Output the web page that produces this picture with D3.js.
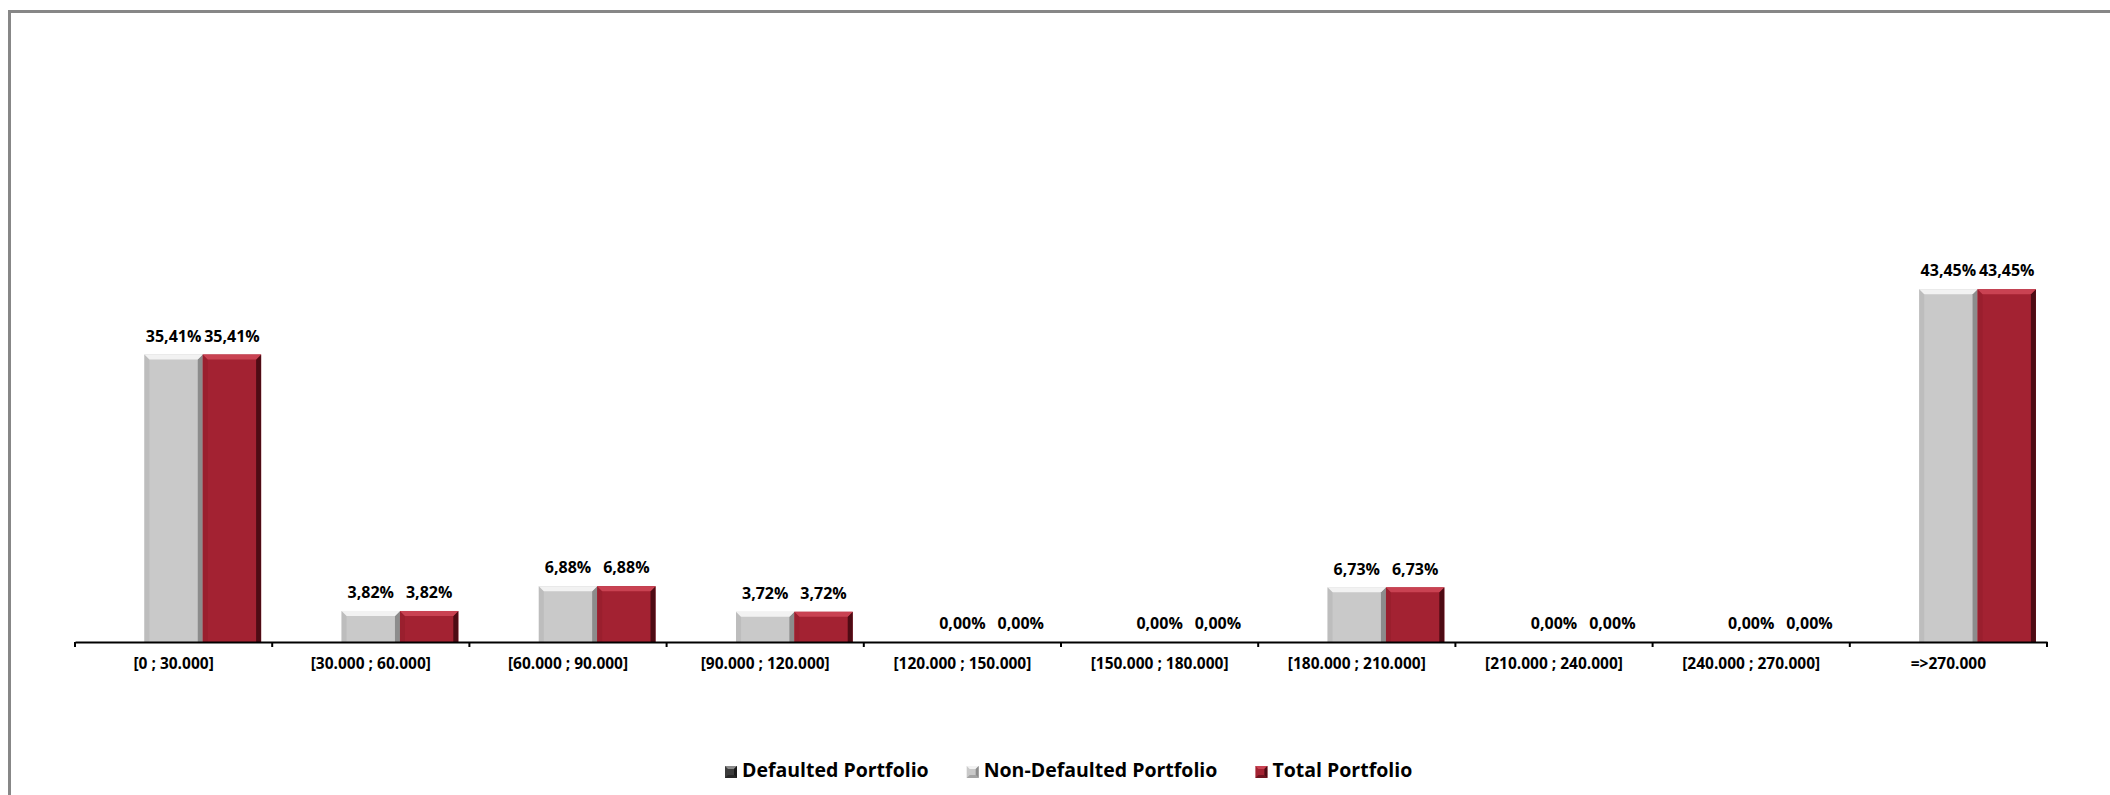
<!DOCTYPE html>
<html>
<head>
<meta charset="utf-8">
<script src="https://cdn.jsdelivr.net/npm/d3@7/dist/d3.min.js"></script>
<style>
  html, body { margin: 0; padding: 0; background: #fff; }
  svg { display: block; }
</style>
</head>
<body>
<svg id="chart" width="2110" height="795"></svg>
<script>
const categories = ["[0 ; 30.000]", "[30.000 ; 60.000]", "[60.000 ; 90.000]", "[90.000 ; 120.000]",
  "[120.000 ; 150.000]", "[150.000 ; 180.000]", "[180.000 ; 210.000]", "[210.000 ; 240.000]",
  "[240.000 ; 270.000]", "=>270.000"];
const seriesNames = ["Defaulted Portfolio", "Non-Defaulted Portfolio", "Total Portfolio"];
const defaulted = [0, 0, 0, 0, 0, 0, 0, 0, 0, 0];
const nonDefaulted = [35.41, 3.82, 6.88, 3.72, 0.00, 0.00, 6.73, 0.00, 0.00, 43.45];
const total = [35.41, 3.82, 6.88, 3.72, 0.00, 0.00, 6.73, 0.00, 0.00, 43.45];
const showLabels = [false, true, true];

const seriesValues = [defaulted, nonDefaulted, total];
const palette = [
  { main: "#3c3c3c", light: "#555555", top: "#8a8a8a", dark: "#1a1a1a" },
  { main: "#c9c9c9", light: "#bdbdbd", top: "#f2f2f2", dark: "#8c8c8c" },
  { main: "#a32232", light: "#9a1f2e", top: "#c94252", dark: "#4e0b14" }
];

const svg = d3.select("#chart");
const FONT = "'Open Sans', Lato, sans-serif";

// outer frame (extends beyond right / bottom edge)
svg.append("rect")
  .attr("x", 9.5).attr("y", 11.5)
  .attr("width", 2200).attr("height", 900)
  .attr("fill", "none").attr("stroke", "#878787").attr("stroke-width", 3);

const x0 = d3.scaleBand().domain(categories).range([75, 2047]).paddingInner(0).paddingOuter(0);
const x1 = d3.scaleBand().domain(seriesNames).range([0, x0.bandwidth()]).paddingInner(0).paddingOuter(0.19);
const y = d3.scaleLinear().domain([0, 50]).range([642, 236]);

const fmt = v => d3.format(".2f")(v).replace(".", ",") + "%";

const data = [];
categories.forEach((c, i) => {
  seriesNames.forEach((s, j) => {
    data.push({ cat: c, series: s, si: j, value: seriesValues[j][i] });
  });
});

const bars = svg.append("g");
const bev = 5;
data.filter(d => d.value > 0).forEach(d => {
  const bx = x0(d.cat) + x1(d.series);
  const bw = x1.bandwidth();
  const by = y(d.value);
  const bh = y(0) - by;
  const col = palette[d.si];
  const g = bars.append("g");
  g.append("rect").attr("x", bx).attr("y", by).attr("width", bw).attr("height", bh).attr("fill", col.main);
  const b = Math.min(bev, bh / 2);
  g.append("polygon").attr("points", [[bx, by], [bx + b, by + b], [bx + b, by + bh], [bx, by + bh]].join(" "))
    .attr("fill", col.light);
  g.append("polygon").attr("points", [[bx + bw, by], [bx + bw - b, by + b], [bx + bw - b, by + bh], [bx + bw, by + bh]].join(" "))
    .attr("fill", col.dark);
  g.append("polygon").attr("points", [[bx, by], [bx + bw, by], [bx + bw - b, by + b], [bx + b, by + b]].join(" "))
    .attr("fill", col.top);
});

// value labels
svg.append("g").selectAll("text")
  .data(data.filter(d => showLabels[d.si]))
  .join("text")
  .attr("x", d => x0(d.cat) + x1(d.series) + x1.bandwidth() / 2)
  .attr("y", d => y(d.value) - 17)
  .attr("text-anchor", "middle")
  .attr("dominant-baseline", "middle")
  .attr("font-family", FONT)
  .attr("font-weight", "bold")
  .attr("font-size", 16)
  .attr("fill", "#000")
  .text(d => fmt(d.value));

// x axis
const axis = svg.append("g").attr("transform", `translate(0,${y(0)})`)
  .call(d3.axisBottom(x0).tickSize(0).tickSizeOuter(0).tickPadding(16));
axis.select(".domain").attr("stroke", "#000").attr("stroke-width", 2);
axis.selectAll(".tick text")
  .attr("font-family", FONT).attr("font-weight", "bold").attr("font-size", 15.5).attr("fill", "#000");

const boundaries = categories.map(c => x0(c)).concat([x0.range()[1]]);
axis.selectAll("line.bound").data(boundaries).join("line")
  .attr("class", "bound")
  .attr("x1", d => d).attr("x2", d => d)
  .attr("y1", 0).attr("y2", 5)
  .attr("stroke", "#000").attr("stroke-width", 2);

// legend
const legend = svg.append("g").attr("transform", "translate(725,772)");
let lx = 0;
seriesNames.forEach((s, j) => {
  const col = palette[j];
  const item = legend.append("g").attr("transform", `translate(${lx},0)`);
  item.append("rect").attr("x", 0).attr("y", -6).attr("width", 12).attr("height", 12).attr("fill", col.main);
  item.append("polygon").attr("points", "0,-6 12,-6 9,-3 3,-3").attr("fill", col.top);
  item.append("polygon").attr("points", "12,-6 12,6 9,3 9,-3").attr("fill", col.dark);
  item.append("polygon").attr("points", "0,6 12,6 9,3 3,3").attr("fill", col.dark).attr("opacity", 0.6);
  const t = item.append("text").attr("x", 17).attr("y", 0)
    .attr("dominant-baseline", "middle")
    .attr("font-family", FONT).attr("font-weight", "bold").attr("font-size", 19.5)
    .attr("fill", "#000").text(s);
  lx += 17 + t.node().getComputedTextLength() + 38;
});
</script>
</body>
</html>
